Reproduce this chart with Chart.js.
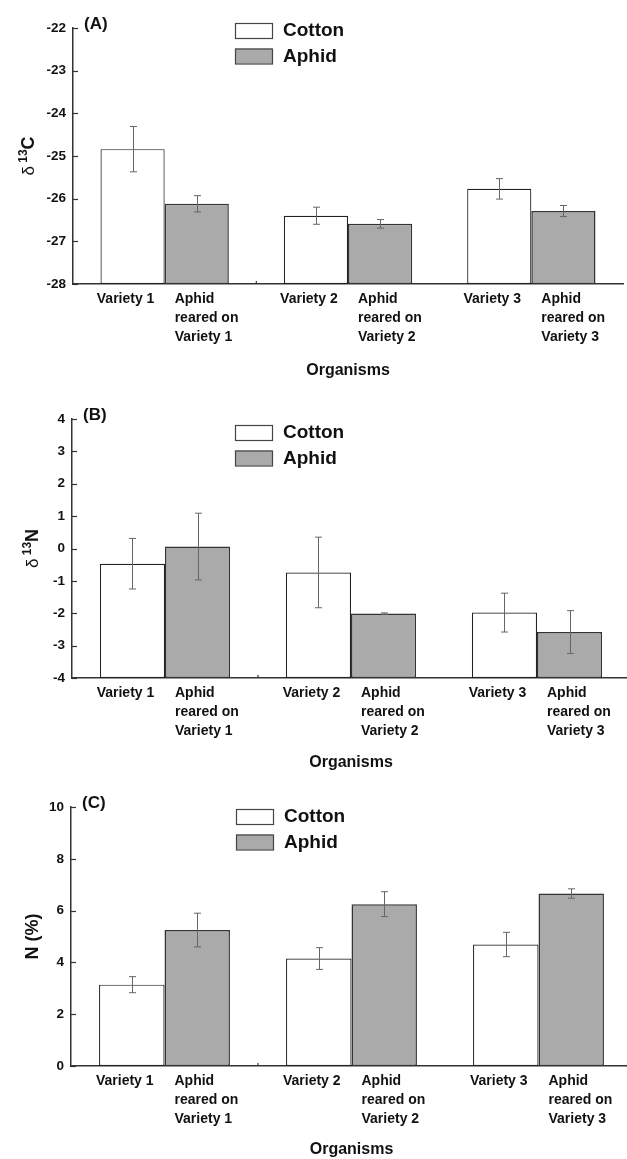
<!DOCTYPE html>
<html>
<head>
<meta charset="utf-8">
<script src="https://cdn.jsdelivr.net/npm/chart.js@4.4.1/dist/chart.umd.min.js"></script>
<style>
    body { margin: 0; background: #fff; width: 627px; height: 1159px; overflow: hidden; position: relative; }
    canvas { position: absolute; left: 0; }
</style>
</head>
<body>
<canvas id="chartA" width="640" height="390" style="top:0px"></canvas>
<canvas id="chartB" width="640" height="390" style="top:390px"></canvas>
<canvas id="chartC" width="640" height="379" style="top:780px"></canvas>
<script>
const groups = ["Variety 1", "Variety 2", "Variety 3"];
const cottonLabels = ["Variety 1", "Variety 2", "Variety 3"];
const aphidLabels = [
    ["Aphid", "reared on", "Variety 1"],
    ["Aphid", "reared on", "Variety 2"],
    ["Aphid", "reared on", "Variety 3"]
];
const seriesNames = ["Cotton", "Aphid"];

// (A) delta 13C
const carbonCotton = [-24.84, -26.40, -25.77];
const carbonCottonErr = [0.53, 0.20, 0.24];
const carbonAphid = [-26.12, -26.59, -26.29];
const carbonAphidErr = [0.19, 0.10, 0.13];
const carbonTicks = [-28, -27, -26, -25, -24, -23, -22];

// (B) delta 13N
const isoNCotton = [-0.47, -0.74, -1.98];
const isoNCottonErr = [0.78, 1.09, 0.60];
const isoNAphid = [0.06, -2.01, -2.58];
const isoNAphidErr = [1.03, 0.02, 0.66];
const isoNTicks = [-4, -3, -2, -1, 0, 1, 2, 3, 4];

// (C) N (%)
const nitroCotton = [3.14, 4.15, 4.69];
const nitroCottonErr = [0.31, 0.42, 0.47];
const nitroAphid = [5.25, 6.25, 6.66];
const nitroAphidErr = [0.65, 0.48, 0.18];
const nitroTicks = [0, 2, 4, 6, 8, 10];

const FONT = "'Liberation Sans', Arial, sans-serif";

const panelDecor = {
    id: "panelDecor",
    afterDatasetsDraw(chart, args, o) {
        const ctx = chart.ctx;
        const area = chart.chartArea;
        const xs = chart.scales.x, ys = chart.scales.y;
        ctx.save();

        // error bars
        ctx.strokeStyle = "#666";
        ctx.lineWidth = 1;
        chart.data.datasets.forEach((ds, di) => {
            chart.getDatasetMeta(di).data.forEach((bar, i) => {
                const v = ds.data[i], e = ds.errors[i];
                const top = ys.getPixelForValue(v + e), bot = ys.getPixelForValue(v - e);
                const bx = Math.round(bar.x) + 0.5;
                ctx.beginPath();
                ctx.moveTo(bx, top); ctx.lineTo(bx, bot);
                ctx.moveTo(bx - 3.5, top); ctx.lineTo(bx + 3.5, top);
                ctx.moveTo(bx - 3.5, bot); ctx.lineTo(bx + 3.5, bot);
                ctx.stroke();
            });
        });

        // inward y ticks
        ctx.strokeStyle = "#333";
        ctx.lineWidth = 1.2;
        ys.ticks.forEach((t, i) => {
            const py = Math.round(ys.getPixelForTick(i)) + 0.5;
            ctx.beginPath();
            ctx.moveTo(area.left, py); ctx.lineTo(area.left + 5, py);
            ctx.stroke();
        });

        // small tick between first and second group
        const sep = (xs.getPixelForValue(0) + xs.getPixelForValue(1)) / 2;
        ctx.beginPath();
        ctx.moveTo(sep, area.bottom); ctx.lineTo(sep, area.bottom - 3);
        ctx.stroke();

        // labels under each bar
        ctx.fillStyle = "#111";
        ctx.font = "bold 14px " + FONT;
        ctx.textBaseline = "middle";
        const cMeta = chart.getDatasetMeta(0), aMeta = chart.getDatasetMeta(1);
        groups.forEach((g, i) => {
            const cb = cMeta.data[i], ab = aMeta.data[i];
            ctx.textAlign = "center";
            ctx.fillText(cottonLabels[i], cb.x - 7, area.bottom + 15);
            ctx.textAlign = "left";
            aphidLabels[i].forEach((line, k) => {
                ctx.fillText(line, ab.x - ab.width / 2 + 10, area.bottom + 15 + k * 19);
            });
        });

        // legend
        const lx = area.left + o.legendDX, ly = area.top + o.legendDY;
        chart.data.datasets.forEach((ds, di) => {
            const by = ly + di * 25.5;
            ctx.fillStyle = ds.backgroundColor;
            ctx.fillRect(lx, by, 37, 15);
            ctx.strokeStyle = "#444";
            ctx.lineWidth = 1.2;
            ctx.strokeRect(lx + 0.5, by + 0.5, 37, 15);
            ctx.fillStyle = "#111";
            ctx.font = "bold 19px " + FONT;
            ctx.textAlign = "left";
            ctx.textBaseline = "middle";
            ctx.fillText(ds.label, lx + 48, by + 8);
        });

        // panel letter
        ctx.font = "bold 17px " + FONT;
        ctx.textBaseline = "alphabetic";
        ctx.fillText(o.letter, area.left + 11, area.top + 1);

        // rotated y title
        ctx.translate(o.titleX, (area.top + area.bottom) / 2);
        ctx.rotate(-Math.PI / 2);
        let total = 0;
        o.titleRuns.forEach(r => { ctx.font = r.font; total += ctx.measureText(r.text).width; });
        let cur = -total / 2;
        o.titleRuns.forEach(r => {
            ctx.font = r.font;
            ctx.fillText(r.text, cur, r.dy || 0);
            cur += ctx.measureText(r.text).width;
        });
        ctx.restore();
    }
};

function makePanel(id, cotton, cottonErr, aphid, aphidErr, ticks, geo) {
    const canvas = document.getElementById(id);
    const W = canvas.width, H = canvas.height;
    return new Chart(canvas.getContext("2d"), {
        type: "bar",
        data: {
            labels: groups,
            datasets: [{
                label: seriesNames[0],
                data: cotton,
                errors: cottonErr,
                backgroundColor: "#ffffff",
                borderColor: "#222",
                borderWidth: 1.2,
                borderSkipped: false,
                base: ticks[0],
                categoryPercentage: 0.7,
                barPercentage: 1.0
            }, {
                label: seriesNames[1],
                data: aphid,
                errors: aphidErr,
                backgroundColor: "#aaaaaa",
                borderColor: "#333",
                borderWidth: 1.5,
                borderSkipped: false,
                base: ticks[0],
                categoryPercentage: 0.7,
                barPercentage: 1.0
            }]
        },
        options: {
            responsive: false,
            animation: false,
            devicePixelRatio: 1,
            layout: { padding: { top: geo.top, left: 0, right: W - geo.right, bottom: 0 } },
            plugins: {
                legend: { display: false },
                tooltip: { enabled: false },
                panelDecor: geo.decor
            },
            scales: {
                x: {
                    grid: { display: false, drawTicks: false },
                    border: { display: true, color: "#333", width: 1.5 },
                    ticks: { display: false },
                    title: {
                        display: true,
                        text: "Organisms",
                        color: "#111",
                        font: { family: FONT, size: 16, weight: "bold" },
                        padding: { top: 0, bottom: geo.titlePad }
                    },
                    afterFit: scale => { scale.height = H - geo.bottom; }
                },
                y: {
                    min: ticks[0],
                    max: ticks[ticks.length - 1],
                    grid: { display: false, drawTicks: false },
                    border: { display: true, color: "#333", width: 1.5 },
                    ticks: {
                        stepSize: ticks[1] - ticks[0],
                        padding: 7,
                        color: "#111",
                        font: { family: FONT, size: 13.5, weight: "bold" }
                    },
                    afterFit: scale => { scale.width = geo.left; }
                }
            }
        },
        plugins: [panelDecor]
    });
}

const deltaRuns = letter => [
    { text: "δ", font: "17px " + FONT },
    { text: " ", font: "12px " + FONT },
    { text: "13", font: "bold 12px " + FONT, dy: -7 },
    { text: letter, font: "bold 18px " + FONT }
];

makePanel("chartA", carbonCotton, carbonCottonErr, carbonAphid, carbonAphidErr, carbonTicks, {
    left: 73, right: 623, top: 28, bottom: 284, titlePad: 10,
    decor: { letter: "(A)", legendDX: 162, legendDY: -5, titleX: 34, titleRuns: deltaRuns("C") }
});
makePanel("chartB", isoNCotton, isoNCottonErr, isoNAphid, isoNAphidErr, isoNTicks, {
    left: 72, right: 630, top: 29, bottom: 288, titlePad: 8,
    decor: { letter: "(B)", legendDX: 163, legendDY: 6, titleX: 38, titleRuns: deltaRuns("N") }
});
makePanel("chartC", nitroCotton, nitroCottonErr, nitroAphid, nitroAphidErr, nitroTicks, {
    left: 71, right: 632, top: 27, bottom: 286, titlePad: 0,
    decor: { letter: "(C)", legendDX: 165, legendDY: 2, titleX: 38, titleRuns: [{ text: "N (%)", font: "bold 18px " + FONT }] }
});
</script>
</body>
</html>
